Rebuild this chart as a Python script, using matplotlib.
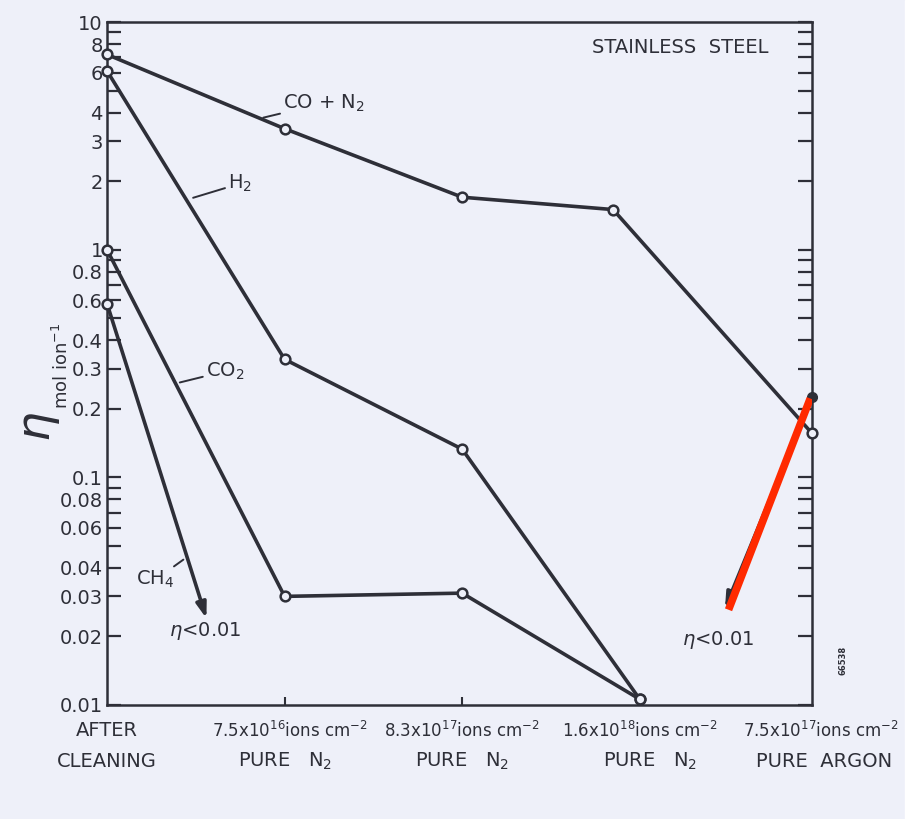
import matplotlib.pyplot as plt
from matplotlib.patches import Rectangle

# Sputtering yield eta (mol/ion) of stainless steel after successive treatments
stage_top = ["AFTER", r"7.5x10$^{16}$ions cm$^{-2}$", r"8.3x10$^{17}$ions cm$^{-2}$",
             r"1.6x10$^{18}$ions cm$^{-2}$", r"7.5x10$^{17}$ions cm$^{-2}$"]
stage_bottom = ["CLEANING", r"PURE   N$_2$", r"PURE   N$_2$", r"PURE   N$_2$", "PURE  ARGON"]
stage_x = [0, 1.03, 2.0, 3.0, 4.02]
stage_x2 = [0, 1.0, 2.0, 3.06, 4.04]

x_co_n2 = [0, 1, 2, 2.85, 3.97]
co_n2 = [7.2, 3.4, 1.7, 1.5, 0.156]

x_h2 = [0, 1, 2, 3.0]
h2 = [6.1, 0.33, 0.133, 0.0106]

x_co2 = [0, 1, 2, 3.0]
co2 = [1.0, 0.030, 0.031, 0.0106]

# CH4 falls below the detection limit after the first exposure
x_ch4 = [0, 0.56]
ch4 = [0.58, 0.024]

# argon point that also drops below the limit
x_ar = [3.97, 3.48]
ar = [0.226, 0.0266]

ytick_vals = [k * 10.0 ** n for n in (-2, -1, 0) for k in range(1, 10)] + [10]
ytick_labels = {0.01: "0.01", 0.02: "0.02", 0.03: "0.03", 0.04: "0.04", 0.06: "0.06",
                0.08: "0.08", 0.1: "0.1", 0.2: "0.2", 0.3: "0.3", 0.4: "0.4", 0.6: "0.6",
                0.8: "0.8", 1: "1", 2: "2", 3: "3", 4: "4", 6: "6", 8: "8", 10: "10"}

bg = "#eef0f9"
ink = "#2e2f38"
fs = 14

fig = plt.figure(figsize=(9.2, 8.19), dpi=100, facecolor=bg)
fig.patches.append(Rectangle((905 / 920, 0), 15 / 920, 1, transform=fig.transFigure,
                             color="white", zorder=0))
ax = fig.add_axes([107 / 920, 1 - 705 / 819, 705 / 920, 683 / 819])
ax.set_facecolor(bg)
ax.set_yscale("log")
ax.set_ylim(0.01, 10)
ax.set_xlim(0, 3.97)

for s in ax.spines.values():
    s.set_linewidth(1.8)
    s.set_color(ink)

ax.set_yticks(ytick_vals)
labels = []
for v in ytick_vals:
    key = min(ytick_labels, key=lambda k: abs(k - v) / k)
    labels.append(ytick_labels[key] if abs(key - v) / v < 1e-6 else "")
ax.set_yticklabels(labels)
ax.yaxis.set_minor_locator(plt.NullLocator())
ax.tick_params(axis="y", which="both", direction="in", length=10, width=1.6,
               color=ink, labelsize=fs, labelcolor=ink, pad=3, right=True)
ax.set_xticks([1, 2])
ax.set_xticklabels(["", ""])
ax.tick_params(axis="x", direction="in", length=6, width=1.5, color=ink)

lw = 2.6
mk = dict(marker="o", markersize=7, markerfacecolor=bg, markeredgecolor=ink,
          markeredgewidth=1.8)
ax.plot(x_co_n2, co_n2, color=ink, lw=lw, **mk, clip_on=False, zorder=3)
ax.plot(x_h2, h2, color=ink, lw=lw, **mk, clip_on=False, zorder=3)
ax.plot(x_co2, co2, color=ink, lw=lw, **mk, clip_on=False, zorder=3)

arrow = dict(arrowstyle="-|>,head_length=0.9,head_width=0.3", color=ink, lw=lw,
             shrinkA=0, shrinkB=0)
ax.annotate("", xy=(x_ch4[1], ch4[1]), xytext=(x_ch4[0], ch4[0]), arrowprops=arrow)
ax.plot(x_ch4[0], ch4[0], **mk, clip_on=False, zorder=4)
ax.annotate("", xy=(x_ar[1], ar[1]), xytext=(x_ar[0], ar[0]), arrowprops=arrow)
ax.plot(x_ar[0], ar[0], marker="o", markersize=7, color=ink, clip_on=False, zorder=4)
ax.plot([3.96, 3.50], [0.222, 0.0262], color="#ff2a00", lw=5.5,
        solid_capstyle="butt", zorder=5)

# series labels with short leader lines
lead = dict(arrowstyle="-", color=ink, lw=1.4, shrinkA=0, shrinkB=0)
ax.annotate(r"CO + N$_2$", xy=(0.88, 3.8), xytext=(0.99, 4.4), fontsize=fs,
            color=ink, va="center", arrowprops=lead)
ax.annotate(r"H$_2$", xy=(0.485, 1.69), xytext=(0.68, 1.95), fontsize=fs,
            color=ink, va="center", arrowprops=lead)
ax.annotate(r"CO$_2$", xy=(0.41, 0.261), xytext=(0.555, 0.292), fontsize=fs,
            color=ink, va="center", arrowprops=lead)
ax.annotate(r"CH$_4$", xy=(0.43, 0.0435), xytext=(0.38, 0.0395), fontsize=fs,
            color=ink, ha="right", va="top", arrowprops=lead)
ax.text(0.55, 0.0212, r"$\eta$<0.01", fontsize=fs, color=ink, ha="center", va="center")
ax.text(3.44, 0.0193, r"$\eta$<0.01", fontsize=fs, color=ink, ha="center", va="center")
ax.text(3.23, 7.7, "STAINLESS  STEEL", fontsize=fs, color=ink, ha="center", va="center")

# stage labels under the axis
tr = ax.get_xaxis_transform()
for i, (xt, xb, t, b) in enumerate(zip(stage_x, stage_x2, stage_top, stage_bottom)):
    ax.text(xt, -0.038, t, transform=tr, fontsize=fs if i == 0 else 12, color=ink,
            ha="center", va="center", clip_on=False)
    ax.text(xb, -0.083, b, transform=tr, fontsize=fs, color=ink, ha="center",
            va="center", clip_on=False)

fig.text(40 / 920, 1 - 427 / 819, r"$\eta$", fontsize=34, rotation=90, color=ink,
         ha="center", va="center")
fig.text(62 / 920, 1 - 366 / 819, r"mol ion$^{-1}$", fontsize=13, rotation=90,
         color=ink, ha="center", va="center")
fig.text(843 / 920, 1 - 660 / 819, "66538", fontsize=6, rotation=90, color=ink,
         ha="center", va="center", fontweight="bold")

fig.savefig("out.png", dpi=100, facecolor=bg)
